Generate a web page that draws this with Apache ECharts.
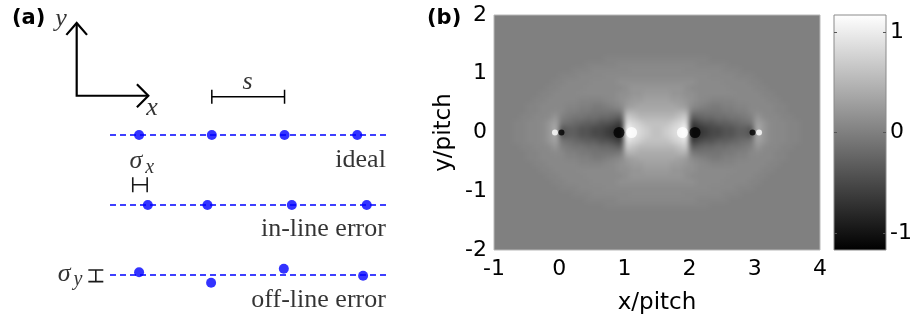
<!DOCTYPE html>
<html>
<head>
<meta charset="utf-8">
<script src="https://cdn.jsdelivr.net/npm/echarts@6/dist/echarts.min.js"></script>
<style>
  html, body { margin: 0; padding: 0; background: #ffffff; }
  #stage { position: relative; width: 910px; height: 320px; }
  #fieldClip { position: absolute; overflow: hidden; }
  #field { position: absolute; filter: blur(2.5px); }
  #chart { position: absolute; left: 0; top: 0; width: 910px; height: 320px; }
</style>
</head>
<body>
<div id="stage">
  <div id="fieldClip"><div id="field"></div></div>
  <div id="chart"></div>
</div>
<script>
// ---------- panel (a): a row of four sites, ideal and with placement errors ----------
// x in units of the pitch s, y in units of the row spacing
const idealX   = [0, 1, 2, 3];
const idealY   = [0, 0, 0, 0];
const inlineX  = [0.12, 0.94, 2.10, 3.13];
const inlineY  = [-1, -1, -1, -1];
const offlineX = [0, 0.99, 1.99, 3.08];
const offlineY = [-1.96, -2.11, -1.91, -2.01];

const guideRowsY = [0, -1, -2];
const guideSpanX = [-0.40, 3.41];

const rowNames  = ['ideal', 'in-line error', 'off-line error'];
const rowNameX  = 3.40;
const rowNameY  = [-0.36, -1.346, -2.36];

// coordinate frame (two arrows) and the pitch scale bar
const frameLines = [
  [[-0.858, 1.60], [-0.858, 0.561], [0.127, 0.561]],
  [[-1.0, 1.43], [-0.858, 1.60], [-0.716, 1.43]],
  [[-0.03, 0.725], [0.127, 0.561], [-0.03, 0.397]]
];
const pitchBar = [
  [[1, 0.547], [2, 0.547]],
  [[1, 0.447], [1, 0.647]],
  [[2, 0.447], [2, 0.647]]
];
// error-bar glyphs next to sigma_x and sigma_y
const sigmaXBar = [
  [[-0.087, -0.71], [0.111, -0.71]],
  [[-0.087, -0.817], [-0.087, -0.603]],
  [[0.111, -0.817], [0.111, -0.603]]
];
const sigmaYBar = [
  [[-0.595, -2.094], [-0.595, -1.928]],
  [[-0.698, -1.928], [-0.492, -1.928]],
  [[-0.698, -2.094], [-0.492, -2.094]]
];
const symbolLabels = [
  { text: 'y', x: -1.067, y: 1.643 },
  { text: 'x', x: 0.184,  y: 0.379 },
  { text: 's', x: 1.50,   y: 0.743 }
];
const sigmaLabels = [
  { sub: 'x', x: -0.125, y: -0.386 },
  { sub: 'y', x: -1.111, y: -1.993 }
];

// ---------- panel (b): field map in units of the pitch ----------
// cell centres, 0.1 pitch apart
const xCenters = [-0.95,-0.85,-0.75,-0.65,-0.55,-0.45,-0.35,-0.25,-0.15,-0.05,
                  0.05,0.15,0.25,0.35,0.45,0.55,0.65,0.75,0.85,0.95,
                  1.05,1.15,1.25,1.35,1.45,1.55,1.65,1.75,1.85,1.95,
                  2.05,2.15,2.25,2.35,2.45,2.55,2.65,2.75,2.85,2.95,
                  3.05,3.15,3.25,3.35,3.45,3.55,3.65,3.75,3.85,3.95];
const yCenters = [1.95,1.85,1.75,1.65,1.55,1.45,1.35,1.25,1.15,1.05,
                  0.95,0.85,0.75,0.65,0.55,0.45,0.35,0.25,0.15,0.05,
                  -0.05,-0.15,-0.25,-0.35,-0.45,-0.55,-0.65,-0.75,-0.85,-0.95,
                  -1.05,-1.15,-1.25,-1.35,-1.45,-1.55,-1.65,-1.75,-1.85,-1.95];

// one character per cell, decoded through fieldLevels
const fieldLevels = {
  '0': 0, 'p': 0.04, 'q': 0.08, '1': 0.1, 'r': 0.15, '2': 0.2, 's': 0.25,
  '3': 0.3, 't': 0.35, '4': 0.4, 'u': 0.45, '5': 0.5, '6': 0.6, '7': 0.7,
  '8': 0.8, '9': 0.9, 'V': 1.0, 'W': 1.17,
  'n': -0.05, 'a': -0.1, 'm': -0.15, 'b': -0.2, 'l': -0.25, 'c': -0.3,
  'd': -0.4, 'e': -0.5, 'f': -0.6, 'g': -0.7, 'h': -0.8, 'i': -0.9, 'K': -1.17
};
// rows from y = 1.95 (top) to y = -1.95 (bottom)
const fieldRows = [
  '0000000000000000000000000' + '0000000000000000000000000',
  '0000000000000000000000000' + '0000000000000000000000000',
  '0000000000000000000000000' + '0000000000000000000000000',
  '0000000000000000000000000' + '0000000000000000000000000',
  '0000000000000000000000000' + '0000000000000000000000000',
  '0000000000000000000000000' + '0000000000000000000000000',
  '0000000000000000000000000' + '0000000000000000000000000',
  '00000000000000000pppppppp' + 'pppppppp00000000000000000',
  '00000000000000pppppqqqqqq' + 'qqqqqqppppp00000000000000',
  '000000000000pppqqqqqq1111' + '1111qqqqqqppp000000000000',
  '0000000000pppqqqq11111111' + '11111111qqqqppp0000000000',
  '000000000ppqqqq1111rrrrrr' + 'rrrrrr1111qqqqpp000000000',
  '00000000ppqqqq111111r2222' + '2222r111111qqqqpp00000000',
  '0000000ppqqqq111111rr22ss' + 'ss22rr111111qqqqpp0000000',
  '000000ppqqqqqppppq1r2ss33' + '33ss2r1qppppqqqqqpp000000',
  '00000ppqqqqpp00nn0p1s3ttt' + 'ttt3s1p0nn00ppqqqqpp00000',
  '00000ppqq1q00nnaaaanuu444' + '444uunaaaann00q1qqpp00000',
  '0000ppqq120naammbblc76555' + '55567clbbmmaan021qqpp0000',
  '000ppqq123amblccddef98766' + '66789feddcclbma321qqpp000',
  '000ppqq124dccddeefghW9876' + '6789Whgfeeddccd421qqpp000',
  '000ppqq124dccddeefghW9876' + '6789Whgfeeddccd421qqpp000',
  '000ppqq123amblccddef98766' + '66789feddcclbma321qqpp000',
  '0000ppqq120naammbblc76555' + '55567clbbmmaan021qqpp0000',
  '00000ppqq1q00nnaaaanuu444' + '444uunaaaann00q1qqpp00000',
  '00000ppqqqqpp00nn0p1s3ttt' + 'ttt3s1p0nn00ppqqqqpp00000',
  '000000ppqqqqqppppq1r2ss33' + '33ss2r1qppppqqqqqpp000000',
  '0000000ppqqqq111111rr22ss' + 'ss22rr111111qqqqpp0000000',
  '00000000ppqqqq111111r2222' + '2222r111111qqqqpp00000000',
  '000000000ppqqqq1111rrrrrr' + 'rrrrrr1111qqqqpp000000000',
  '0000000000pppqqqq11111111' + '11111111qqqqppp0000000000',
  '000000000000pppqqqqqq1111' + '1111qqqqqqppp000000000000',
  '00000000000000pppppqqqqqq' + 'qqqqqqppppp00000000000000',
  '00000000000000000pppppppp' + 'pppppppp00000000000000000',
  '0000000000000000000000000' + '0000000000000000000000000',
  '0000000000000000000000000' + '0000000000000000000000000',
  '0000000000000000000000000' + '0000000000000000000000000',
  '0000000000000000000000000' + '0000000000000000000000000',
  '0000000000000000000000000' + '0000000000000000000000000',
  '0000000000000000000000000' + '0000000000000000000000000',
  '0000000000000000000000000' + '0000000000000000000000000'
];
// sharp extrema right at the sites
const innerPoleX = [0.917, 1.11, 1.89, 2.083];
const innerPoleY = [0, 0, 0, 0];
const innerPoleV = [-1.17, 1.17, 1.17, -1.17];
const outerPoleX = [-0.065, 0.035, 2.965, 3.065];
const outerPoleY = [0, 0, 0, 0];
const outerPoleV = [1.17, -1.17, -1.17, 1.17];

const colorRange = [-1.17, 1.17];
const colorTicks = [-1, 0, 1];

// ---------- layout ----------
const plotBox = { left: 494, top: 15, width: 326, height: 235 };
const fieldPad = 12;          // margin drawn around the smoothed field layer
const GRAYS = ['#000000', '#ffffff'];
const ZERO_GRAY = '#808080';

const clip = document.getElementById('fieldClip');
Object.assign(clip.style, {
  left: plotBox.left + 'px', top: plotBox.top + 'px',
  width: plotBox.width + 'px', height: plotBox.height + 'px'
});
const fieldDiv = document.getElementById('field');
Object.assign(fieldDiv.style, {
  left: -fieldPad + 'px', top: -fieldPad + 'px',
  width: (plotBox.width + 2 * fieldPad) + 'px', height: (plotBox.height + 2 * fieldPad) + 'px'
});

// ---------- build series data ----------
const cellData = [];
fieldRows.forEach((row, j) => {
  if (row.length !== xCenters.length) console.warn('field row ' + j + ' has ' + row.length + ' cells');
  for (let i = 0; i < row.length; i++) cellData.push([xCenters[i], yCenters[j], fieldLevels[row[i]]]);
});
const cellHalf = 0.05;
const zip3 = (xs, ys, vs) => xs.map((x, k) => [x, ys[k], vs[k]]);
const zip2 = (xs, ys) => xs.map((x, k) => [x, ys[k]]);

const SANS = 'DejaVu Sans';
const SERIF = 'Liberation Serif';
const BLUE = '#0000ff';

// smooth field layer (panel b interior)
const fieldChart = echarts.init(fieldDiv, null, { renderer: 'canvas' });
fieldChart.setOption({
  backgroundColor: ZERO_GRAY,
  animation: false,
  grid: { left: fieldPad, top: fieldPad, width: plotBox.width, height: plotBox.height, outerBoundsMode: 'none' },
  xAxis: { type: 'value', min: -1, max: 4, show: false },
  yAxis: { type: 'value', min: -2, max: 2, show: false },
  visualMap: {
    type: 'continuous', show: false, min: colorRange[0], max: colorRange[1],
    dimension: 2, seriesIndex: 0, inRange: { color: GRAYS }
  },
  series: [{
    type: 'custom', data: cellData, silent: true, animation: false, clip: true,
    renderItem: function (params, api) {
      const x = api.value(0), y = api.value(1);
      const a = api.coord([x - cellHalf, y + cellHalf]);
      const b = api.coord([x + cellHalf, y - cellHalf]);
      const x0 = Math.floor(a[0]), y0 = Math.floor(a[1]);
      const x1 = Math.ceil(b[0]), y1 = Math.ceil(b[1]);
      return {
        type: 'rect',
        shape: { x: x0, y: y0, width: x1 - x0, height: y1 - y0 },
        style: { fill: api.visual('color'), stroke: null }
      };
    }
  }]
});

function pathSeries(points, color, width) {
  return {
    type: 'line', xAxisIndex: 0, yAxisIndex: 0, data: points,
    symbol: 'none', silent: true, animation: false, z: 4,
    lineStyle: { color: color, width: width, cap: 'butt', join: 'miter' }
  };
}

const series = [
  {
    type: 'scatter', xAxisIndex: 1, yAxisIndex: 1, symbolSize: 11,
    data: zip3(innerPoleX, innerPoleY, innerPoleV), silent: true, animation: false, z: 3
  },
  {
    type: 'scatter', xAxisIndex: 1, yAxisIndex: 1, symbolSize: 6,
    data: zip3(outerPoleX, outerPoleY, outerPoleV), silent: true, animation: false, z: 3
  },
  {
    // colour bar
    type: 'custom', xAxisIndex: 2, yAxisIndex: 2, silent: true, animation: false, z: 1,
    data: [[0, colorRange[0], colorRange[1]]],
    renderItem: function (params, api) {
      const top = api.coord([api.value(0), api.value(2)]);
      const bot = api.coord([api.value(0), api.value(1)]);
      const w = api.size([1, 0])[0];
      return {
        type: 'rect',
        shape: { x: top[0] - w / 2, y: top[1], width: w, height: bot[1] - top[1] },
        style: {
          fill: new echarts.graphic.LinearGradient(0, 0, 0, 1, [
            { offset: 0, color: GRAYS[1] }, { offset: 1, color: GRAYS[0] }
          ]),
          stroke: '#8a8a8a', lineWidth: 1
        }
      };
    }
  }
];

// dashed guide lines
guideRowsY.forEach(y => {
  series.push({
    type: 'line', xAxisIndex: 0, yAxisIndex: 0,
    data: [[guideSpanX[0], y], [guideSpanX[1], y]],
    symbol: 'none', silent: true, animation: false, z: 2,
    lineStyle: { color: BLUE, width: 1.3, type: [6, 4] }
  });
});
// sites
[[idealX, idealY], [inlineX, inlineY], [offlineX, offlineY]].forEach(([xs, ys]) => {
  series.push({
    type: 'scatter', xAxisIndex: 0, yAxisIndex: 0, data: zip2(xs, ys),
    symbolSize: 10, itemStyle: { color: BLUE }, silent: true, animation: false, z: 5
  });
});
frameLines.forEach(p => series.push(pathSeries(p, '#000000', 2.2)));
pitchBar.forEach(p => series.push(pathSeries(p, '#000000', 1.5)));
sigmaXBar.forEach(p => series.push(pathSeries(p, '#1a1a1a', 1.6)));
sigmaYBar.forEach(p => series.push(pathSeries(p, '#1a1a1a', 1.6)));

// text annotations of panel (a)
series.push({
  type: 'scatter', xAxisIndex: 0, yAxisIndex: 0, symbolSize: 1, silent: true, animation: false,
  itemStyle: { color: 'rgba(0,0,0,0)' }, z: 6,
  data: rowNames.map((t, k) => ({
    value: [rowNameX, rowNameY[k]],
    label: { formatter: t }
  })),
  label: {
    show: true, position: [0, 0], align: 'right', verticalAlign: 'middle',
    fontFamily: SERIF, fontSize: 26, color: '#000000'
  }
});
series.push({
  type: 'scatter', xAxisIndex: 0, yAxisIndex: 0, symbolSize: 1, silent: true, animation: false,
  itemStyle: { color: 'rgba(0,0,0,0)' }, z: 6,
  data: symbolLabels.map(d => ({ value: [d.x, d.y], label: { formatter: d.text } })),
  label: {
    show: true, position: [0, 0], align: 'center', verticalAlign: 'middle',
    fontFamily: SERIF, fontStyle: 'italic', fontSize: 26, color: '#000000'
  }
});
series.push({
  type: 'scatter', xAxisIndex: 0, yAxisIndex: 0, symbolSize: 1, silent: true, animation: false,
  itemStyle: { color: 'rgba(0,0,0,0)' }, z: 6,
  data: sigmaLabels.map(d => ({ value: [d.x, d.y], label: { formatter: '{g|σ}{s|' + d.sub + '}' } })),
  label: {
    show: true, position: [0, 0], align: 'left', verticalAlign: 'middle', color: '#000000',
    rich: {
      g: { fontFamily: SERIF, fontStyle: 'italic', fontSize: 26, color: '#000000' },
      s: { fontFamily: SERIF, fontStyle: 'italic', fontSize: 20, color: '#000000', padding: [12, 0, 0, 3] }
    }
  }
});

const tickText = { fontFamily: SANS, fontSize: 22, color: '#000000' };
const nameText = { fontFamily: SANS, fontSize: 23, color: '#000000' };

const option = {
  backgroundColor: 'transparent',
  animation: false,
  title: [
    { text: '(a)', left: 12, top: 8, padding: 0,
      textStyle: { fontFamily: SANS, fontWeight: 'bold', fontSize: 21, color: '#000000' } },
    { text: '(b)', left: 427, top: 8, padding: 0,
      textStyle: { fontFamily: SANS, fontWeight: 'bold', fontSize: 21, color: '#000000' } }
  ],
  grid: [
    { left: 30, top: 9, width: 400, height: 308, outerBoundsMode: 'none' },
    Object.assign({ outerBoundsMode: 'none', show: true, borderColor: '#b8b8b8', borderWidth: 1,
                    backgroundColor: 'transparent' }, plotBox),
    { left: 834, top: 15, width: 52, height: 235, outerBoundsMode: 'none' }
  ],
  xAxis: [
    { type: 'value', gridIndex: 0, min: -1.5, max: 4, show: false },
    { type: 'value', gridIndex: 1, min: -1, max: 4, interval: 1, position: 'bottom',
      axisLine: { show: false }, axisTick: { show: false }, splitLine: { show: false },
      axisLabel: Object.assign({ margin: 8 }, tickText),
      name: 'x/pitch', nameLocation: 'middle', nameGap: 42, nameTextStyle: nameText },
    { type: 'category', gridIndex: 2, data: ['bar'], show: false }
  ],
  yAxis: [
    { type: 'value', gridIndex: 0, min: -2.6, max: 1.8, show: false },
    { type: 'value', gridIndex: 1, min: -2, max: 2, interval: 1, position: 'left',
      axisLine: { show: false }, axisTick: { show: false }, splitLine: { show: false },
      axisLabel: Object.assign({ margin: 7, padding: [8, 0, 0, 0] }, tickText),
      name: 'y/pitch', nameLocation: 'middle', nameGap: 38, nameRotate: 90, nameTextStyle: nameText },
    { type: 'value', gridIndex: 2, min: colorRange[0], max: colorRange[1], position: 'right', z: 10,
      axisLine: { show: false }, splitLine: { show: false },
      axisTick: { show: true, inside: true, length: 3, customValues: colorTicks,
                  lineStyle: { color: '#555555', width: 1 } },
      axisLabel: Object.assign({ margin: 4, padding: [6, 0, 0, 0], customValues: colorTicks }, tickText) },
    { type: 'value', gridIndex: 2, min: colorRange[0], max: colorRange[1], position: 'left', z: 10,
      axisLine: { show: false }, splitLine: { show: false }, axisLabel: { show: false },
      axisTick: { show: true, inside: true, length: 3, customValues: colorTicks,
                  lineStyle: { color: '#555555', width: 1 } } }
  ],
  visualMap: {
    type: 'continuous', show: false, min: colorRange[0], max: colorRange[1],
    dimension: 2, seriesIndex: [0, 1], inRange: { color: GRAYS }
  },
  series: series
};

const chart = echarts.init(document.getElementById('chart'), null, { renderer: 'canvas' });
chart.setOption(option);
</script>
</body>
</html>
